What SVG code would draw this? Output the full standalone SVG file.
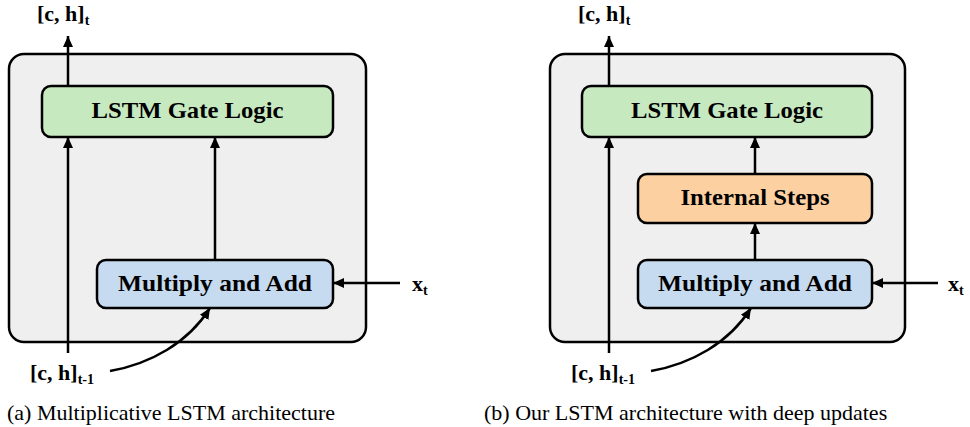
<svg xmlns="http://www.w3.org/2000/svg" width="970" height="427" viewBox="0 0 970 427">
  <defs>
    <marker id="arrow" markerUnits="userSpaceOnUse" markerWidth="12" markerHeight="12" refX="11" refY="6" orient="auto">
      <path d="M0,1 L11,6 L0,11 z" fill="#000"/>
    </marker>
    <style>
      .outer { fill: #efefef; stroke: #000; stroke-width: 2.5; }
      .box { stroke: #000; stroke-width: 2.5; }
      .gate { fill: #c7e9c0; }
      .mul { fill: #c6dbef; }
      .steps { fill: #fdd0a2; }
      .lbl { font-family: 'Liberation Serif', 'Times New Roman', serif; font-weight: bold; font-size: 22px; fill: #000; }
      .name { font-size: 23px; }
      .sub { font-size: 14px; }
      .cap { font-family: 'Liberation Serif', 'Times New Roman', serif; font-size: 22px; fill: #000; }
      .conn { fill: none; stroke: #000; stroke-width: 2.5; marker-end: url(#arrow); }
    </style>
  </defs>

  <!-- (a) multiplicative LSTM -->
  <g id="a-cell">
    <rect class="outer" x="9" y="54" width="357" height="288" rx="15"/>
  </g>
  <g id="a-gate">
    <rect class="box gate" x="42" y="86" width="291" height="51" rx="9"/>
    <text class="lbl name" x="187.5" y="118" text-anchor="middle" textLength="192" lengthAdjust="spacingAndGlyphs">LSTM Gate Logic</text>
  </g>
  <g id="a-mul">
    <rect class="box mul" x="97" y="260" width="236" height="48" rx="9"/>
    <text class="lbl name" x="215" y="291" text-anchor="middle" textLength="194" lengthAdjust="spacingAndGlyphs">Multiply and Add</text>
  </g>
  <g id="a-out">
    <text class="lbl" x="37" y="21">[c, h]<tspan class="sub" dy="4">t</tspan></text>
  </g>
  <g id="a-prev">
    <text class="lbl" x="30" y="380">[c, h]<tspan class="sub" dy="4">t-1</tspan></text>
  </g>
  <g id="a-x">
    <text class="lbl" x="412" y="291">x<tspan class="sub" dy="4">t</tspan></text>
  </g>
  <g id="a-connectors">
    <path class="conn" d="M68,86 V36"/>
    <path class="conn" d="M68,353 V137"/>
    <path class="conn" d="M215,260 V137"/>
    <path class="conn" d="M400,283 H333"/>
    <path class="conn" d="M110,371 C150,364 188,343 210,308"/>
  </g>

  <!-- (b) LSTM with deep updates -->
  <g id="b-cell">
    <rect class="outer" x="550" y="54" width="355" height="288" rx="15"/>
  </g>
  <g id="b-gate">
    <rect class="box gate" x="582" y="86" width="290" height="51" rx="9"/>
    <text class="lbl name" x="727" y="118" text-anchor="middle" textLength="192" lengthAdjust="spacingAndGlyphs">LSTM Gate Logic</text>
  </g>
  <g id="b-steps">
    <rect class="box steps" x="638" y="174" width="234" height="49" rx="9"/>
    <text class="lbl name" x="755" y="205" text-anchor="middle" textLength="149" lengthAdjust="spacingAndGlyphs">Internal Steps</text>
  </g>
  <g id="b-mul">
    <rect class="box mul" x="638" y="260" width="234" height="48" rx="9"/>
    <text class="lbl name" x="755" y="291" text-anchor="middle" textLength="194" lengthAdjust="spacingAndGlyphs">Multiply and Add</text>
  </g>
  <g id="b-out">
    <text class="lbl" x="578" y="21">[c, h]<tspan class="sub" dy="4">t</tspan></text>
  </g>
  <g id="b-prev">
    <text class="lbl" x="571" y="380">[c, h]<tspan class="sub" dy="4">t-1</tspan></text>
  </g>
  <g id="b-x">
    <text class="lbl" x="948" y="291">x<tspan class="sub" dy="4">t</tspan></text>
  </g>
  <g id="b-connectors">
    <path class="conn" d="M609,86 V36"/>
    <path class="conn" d="M609,353 V137"/>
    <path class="conn" d="M755,174 V137"/>
    <path class="conn" d="M755,260 V223"/>
    <path class="conn" d="M938,283 H872"/>
    <path class="conn" d="M651,371 C691,364 729,343 751,308"/>
  </g>

  <!-- captions -->
  <text class="cap" x="7" y="420">(a) Multiplicative LSTM architecture</text>
  <text class="cap" x="484" y="420">(b) Our LSTM architecture with deep updates</text>
</svg>
